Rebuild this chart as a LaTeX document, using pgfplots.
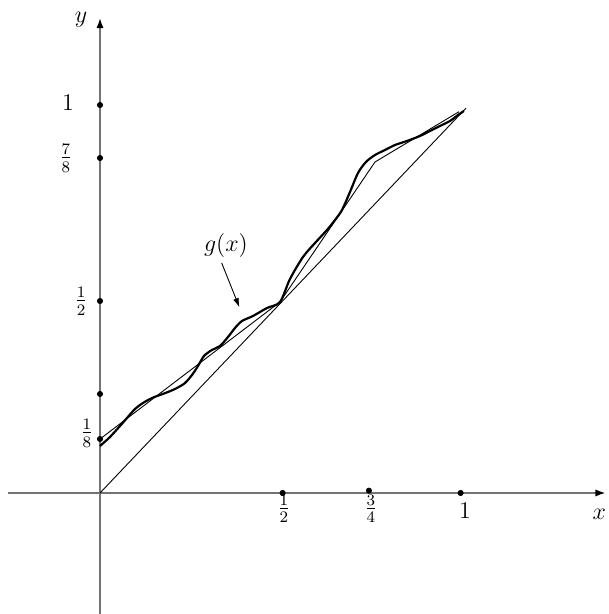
\documentclass[border=0pt]{standalone}
\usepackage{pgfplots}
\pgfplotsset{compat=1.18}
\usetikzlibrary{arrows.meta}
\tikzset{lbl/.style={font=\fontsize{11.5}{14}\selectfont}}
\begin{document}
\begin{tikzpicture}
\begin{axis}[x=180.5pt, y=194pt, xmin=-0.254, xmax=1.40, ymin=-0.312, ymax=1.224,
  axis lines=middle, xtick=\empty, ytick=\empty, clip=false,
  axis line style={black!55, line width=0.7pt,
    -{Latex[black, length=5pt, width=3.6pt]}}]
% diagonal y = x
\addplot[black, line width=0.45pt] coordinates {(0,0) (1.014,0.992)};
% piecewise linear interpolant
\addplot[black, line width=0.45pt] coordinates {(0,0.139) (0.4986,0.4923)
  (0.7618,0.8531) (0.9945,0.9827)};
% g(x)
\addplot[black, line width=1.1pt, smooth, tension=0.5] coordinates {
  (0,0.1211) (0.0277,0.1443) (0.0554,0.1727) (0.0748,0.1933) (0.0970,0.2165)
  (0.1191,0.2320) (0.1440,0.2448) (0.1662,0.2526) (0.1884,0.2603)
  (0.2133,0.2706) (0.2355,0.2835) (0.2548,0.3041) (0.2715,0.3273)
  (0.2881,0.3531) (0.3102,0.3686) (0.3324,0.3789) (0.3546,0.4021)
  (0.3740,0.4253) (0.3934,0.4433) (0.4238,0.4562) (0.4626,0.4768)
  (0.4986,0.4923) (0.5263,0.5515) (0.5623,0.6082) (0.5956,0.6443)
  (0.6288,0.6778) (0.6510,0.7036) (0.6704,0.7294) (0.6925,0.7758)
  (0.7147,0.8247) (0.7368,0.8531) (0.7618,0.8711) (0.7895,0.8840)
  (0.8172,0.8969) (0.8504,0.9072) (0.8864,0.9201) (0.9141,0.9330)
  (0.9418,0.9459) (0.9695,0.9588) (0.9917,0.9742) (1.0083,0.9845)};
% tick dots
\addplot[only marks, mark=*, mark size=1.3pt, black] coordinates {
  (0,1) (0,0.8634) (0,0.4948) (0,0.2552) (0,0.1392)
  (0.506,0) (0.745,0.006) (0.999,0)};
\node[lbl] at (axis cs:-0.0886,1.006) {$1$};
\node[lbl] at (axis cs:-0.0942,0.8634) {$\frac{7}{8}$};
\node[lbl] at (axis cs:-0.0526,0.4948) {$\frac{1}{2}$};
\node[lbl] at (axis cs:-0.036,0.1546) {$\frac{1}{8}$};
\node[lbl] at (axis cs:0.5097,-0.0412) {$\frac{1}{2}$};
\node[lbl] at (axis cs:0.7507,-0.0412) {$\frac{3}{4}$};
\node[lbl] at (axis cs:1.011,-0.0464) {$1$};
\node[lbl] at (axis cs:-0.0526,1.2191) {$y$};
\node[lbl] at (axis cs:1.383,-0.054) {$x$};
\node[lbl] at (axis cs:0.349,0.637) {$g(x)$};
\draw[-{Latex[length=4.5pt, width=3pt]}, line width=0.45pt]
  (axis cs:0.337,0.593) -- (axis cs:0.386,0.479);
\coordinate (bl) at (axis cs:-0.277,-0.3119);
\coordinate (tr) at (axis cs:1.410,1.2706);
\end{axis}
\pgfresetboundingbox
\useasboundingbox (bl) rectangle (tr);
\end{tikzpicture}
\end{document}
